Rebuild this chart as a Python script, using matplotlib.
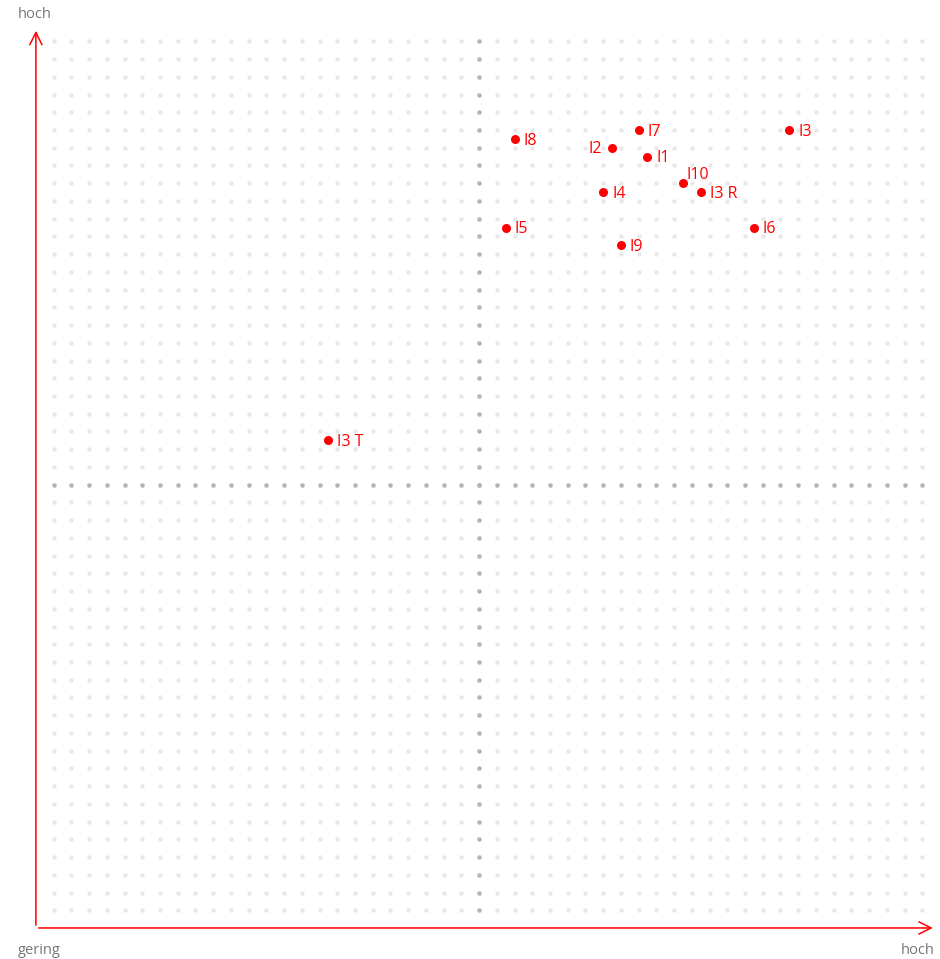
import numpy as np
import matplotlib
matplotlib.use("Agg")
import matplotlib.pyplot as plt

plt.rcParams['font.family'] = ['Open Sans', 'DejaVu Sans']

# values (scale 0..10 on both axes)
labels = ['I1', 'I2', 'I3', 'I3 R', 'I3 T', 'I4', 'I5', 'I6', 'I7', 'I8', 'I9', 'I10']
xVals = [6.9, 6.5, 8.5, 7.5, 3.3, 6.4, 5.3, 8.1, 6.8, 5.4, 6.6, 7.3]
yVals = [8.7, 8.8, 9.0, 8.3, 5.5, 8.3, 7.9, 7.9, 9.0, 8.9, 7.7, 8.4]
# label placement: 'r' right, 'l' left, 'ur' upper right
placement = ['r', 'l', 'r', 'r', 'r', 'r', 'r', 'r', 'r', 'r', 'r', 'ur']

red = '#ff0000'
gray = '#777777'

fig = plt.figure(figsize=(9.4, 9.59), dpi=100)
ax = fig.add_axes([0, 0, 1, 1])
ax.set_xlim(-0.405, 10.2)
ax.set_ylim(-0.35, 10.466)
ax.axis('off')

# dotted background grid
steps = np.round(np.arange(0.2, 10.01, 0.2), 1)
gx, gy = np.meshgrid(steps, steps)
ax.plot(gx.ravel(), gy.ravel(), 'o', ms=3.2, color='#e8e8e8', mec='none', zorder=1)
ax.plot(np.full(len(steps), 5.0), steps, 'o', ms=3.2, color='#b4b4b4', mec='none', zorder=2)
ax.plot(steps, np.full(len(steps), 5.0), 'o', ms=3.2, color='#b4b4b4', mec='none', zorder=2)

# axes with open arrow heads
ax.annotate('', xy=(10.15, 0), xytext=(0, 0),
            arrowprops=dict(arrowstyle='->', color=red, lw=1.1, mutation_scale=22))
ax.annotate('', xy=(0, 10.15), xytext=(0, 0),
            arrowprops=dict(arrowstyle='->', color=red, lw=1.1, mutation_scale=22))

ax.text(-0.2, 10.3, 'hoch', color=gray, fontsize=10.5, ha='left', va='center')
ax.text(-0.2, -0.25, 'gering', color=gray, fontsize=10.5, ha='left', va='center')
ax.text(10.14, -0.25, 'hoch', color=gray, fontsize=10.5, ha='right', va='center')

# data points
ax.plot(xVals, yVals, 'o', ms=6.5, color=red, mec='none', zorder=5)
for lab, x, y, p in zip(labels, xVals, yVals, placement):
    if p == 'r':
        ax.annotate(lab, (x, y), xytext=(6.5, -1.2), textcoords='offset points',
                    color=red, fontsize=11.5, ha='left', va='center')
    elif p == 'l':
        ax.annotate(lab, (x, y), xytext=(-7, -1.2), textcoords='offset points',
                    color=red, fontsize=11.5, ha='right', va='center')
    else:
        ax.annotate(lab, (x, y), xytext=(2.5, 6), textcoords='offset points',
                    color=red, fontsize=11.5, ha='left', va='center')

fig.savefig('out.png', dpi=100)
